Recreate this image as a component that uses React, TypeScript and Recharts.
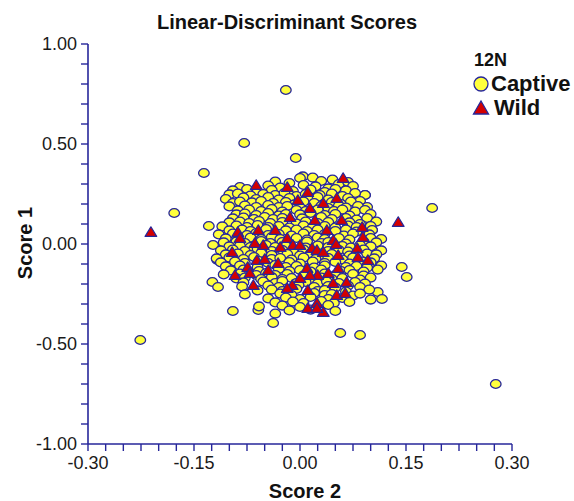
import { ScatterChart, Scatter, XAxis, YAxis, Legend } from "recharts";

// [Score 2, Score 1] pairs
const captiveCore: [number, number][] = [
  [0.004, 0.338], [0.018, 0.332], [0.046, 0.322], [0.0, 0.33],
  [-0.035, 0.312], [-0.015, 0.305], [0.03, 0.315], [0.055, 0.3], [0.068, 0.31],
  [-0.085, 0.285], [-0.045, 0.292], [-0.028, 0.282], [0.005, 0.295], [0.022, 0.288], [0.04, 0.278], [0.075, 0.29],
  [-0.095, 0.268], [-0.075, 0.275], [-0.06, 0.262], [-0.04, 0.27], [-0.01, 0.265], [0.015, 0.272], [0.035, 0.26], [0.05, 0.275], [0.065, 0.268], [0.092, 0.245],
  [-0.1, 0.248], [-0.088, 0.252], [-0.07, 0.242], [-0.052, 0.25], [-0.035, 0.245], [-0.022, 0.255], [-0.005, 0.24], [0.008, 0.25], [0.028, 0.245], [0.045, 0.252], [0.06, 0.24], [0.078, 0.255],
  [-0.105, 0.225], [-0.08, 0.232], [-0.062, 0.225], [-0.045, 0.235], [-0.03, 0.222], [-0.015, 0.23], [0.012, 0.228], [0.025, 0.235], [0.04, 0.222], [0.068, 0.23], [0.085, 0.215],
  [-0.095, 0.205], [-0.085, 0.212], [-0.068, 0.208], [-0.055, 0.215], [-0.038, 0.205], [-0.02, 0.21], [-0.008, 0.198], [0.005, 0.212], [0.02, 0.205], [0.045, 0.21], [0.058, 0.2], [0.072, 0.212], [0.095, 0.185],
  [-0.1, 0.188], [-0.078, 0.192], [-0.062, 0.185], [-0.045, 0.195], [-0.03, 0.185], [-0.018, 0.19], [0.0, 0.182], [0.03, 0.19], [0.04, 0.18], [0.055, 0.192], [0.065, 0.182], [0.082, 0.19],
  [-0.088, 0.168], [-0.072, 0.172], [-0.055, 0.165], [-0.04, 0.175], [-0.025, 0.162], [-0.005, 0.17], [0.008, 0.165], [0.025, 0.172], [0.048, 0.165], [0.06, 0.172], [0.078, 0.162], [0.092, 0.17],
  [-0.09, 0.148], [-0.078, 0.152], [-0.062, 0.145], [-0.045, 0.155], [-0.03, 0.142], [-0.02, 0.15], [0.0, 0.148], [0.015, 0.155], [0.035, 0.145], [0.05, 0.15], [0.07, 0.142], [0.1, 0.15],
  [-0.095, 0.128], [-0.08, 0.132], [-0.065, 0.125], [-0.05, 0.135], [-0.038, 0.125], [-0.025, 0.13], [0.003, 0.128], [0.03, 0.135], [0.045, 0.125], [0.065, 0.13], [0.08, 0.122], [0.095, 0.13],
  [-0.1, 0.108], [-0.085, 0.112], [-0.072, 0.105], [-0.058, 0.115], [-0.042, 0.105], [-0.025, 0.11], [-0.005, 0.102], [0.008, 0.112], [0.025, 0.105], [0.04, 0.11], [0.07, 0.108], [0.085, 0.1], [0.108, 0.112],
  [-0.11, 0.088], [-0.09, 0.092], [-0.075, 0.085], [-0.06, 0.095], [-0.045, 0.085], [-0.03, 0.09], [-0.015, 0.082], [0.005, 0.092], [0.018, 0.085], [0.035, 0.09], [0.05, 0.082], [0.068, 0.092], [0.08, 0.085], [0.1, 0.09],
  [-0.1, 0.068], [-0.082, 0.072], [-0.07, 0.065], [-0.048, 0.075], [-0.02, 0.068], [-0.005, 0.072], [0.01, 0.065], [0.025, 0.072], [0.05, 0.065], [0.065, 0.072], [0.08, 0.062], [0.102, 0.07],
  [-0.115, 0.048], [-0.095, 0.052], [-0.075, 0.045], [-0.062, 0.055], [-0.045, 0.045], [-0.03, 0.05], [-0.012, 0.042], [0.005, 0.052], [0.02, 0.045], [0.035, 0.05], [0.062, 0.042], [0.075, 0.052], [0.098, 0.048],
  [-0.105, 0.028], [-0.07, 0.032], [-0.055, 0.025], [-0.04, 0.035], [-0.028, 0.025], [-0.005, 0.03], [0.01, 0.022], [0.025, 0.032], [0.035, 0.025], [0.055, 0.03], [0.07, 0.022], [0.1, 0.03], [0.115, 0.025],
  [-0.108, 0.008], [-0.09, 0.012], [-0.078, 0.005], [-0.055, 0.015], [-0.042, 0.005], [-0.025, 0.01], [-0.015, 0.002], [0.01, 0.012], [0.03, 0.005], [0.04, 0.01], [0.065, 0.002], [0.09, 0.012], [0.108, 0.008],
  [-0.1, -0.012], [-0.085, -0.008], [-0.07, -0.015], [-0.048, -0.005], [-0.035, -0.015], [-0.02, -0.01], [0.008, -0.018], [0.025, -0.008], [0.04, -0.015], [0.06, -0.01], [0.072, -0.018], [0.085, -0.005], [0.1, -0.012],
  [-0.112, -0.032], [-0.095, -0.028], [-0.078, -0.035], [-0.06, -0.025], [-0.04, -0.035], [-0.025, -0.03], [-0.01, -0.038], [0.005, -0.028], [0.04, -0.035], [0.055, -0.03], [0.068, -0.038], [0.09, -0.028], [0.115, -0.032],
  [-0.105, -0.052], [-0.088, -0.048], [-0.07, -0.055], [-0.055, -0.045], [-0.04, -0.055], [-0.018, -0.05], [0.0, -0.058], [0.015, -0.048], [0.03, -0.055], [0.045, -0.05], [0.07, -0.058], [0.095, -0.048], [0.108, -0.052],
  [-0.118, -0.072], [-0.1, -0.068], [-0.08, -0.075], [-0.065, -0.065], [-0.04, -0.075], [-0.028, -0.07], [-0.012, -0.078], [0.005, -0.068], [0.022, -0.075], [0.04, -0.07], [0.06, -0.078], [0.075, -0.068], [0.105, -0.072],
  [-0.112, -0.092], [-0.092, -0.088], [-0.078, -0.095], [-0.058, -0.085], [-0.045, -0.095], [-0.015, -0.09], [0.0, -0.098], [0.018, -0.088], [0.035, -0.095], [0.05, -0.09], [0.07, -0.098], [0.088, -0.088], [0.1, -0.092],
  [-0.105, -0.112], [-0.085, -0.108], [-0.06, -0.115], [-0.035, -0.105], [-0.02, -0.115], [-0.005, -0.11], [0.02, -0.118], [0.035, -0.108], [0.065, -0.115], [0.08, -0.11], [0.095, -0.118], [0.115, -0.108],
  [-0.098, -0.132], [-0.08, -0.128], [-0.058, -0.135], [-0.03, -0.125], [-0.015, -0.135], [0.0, -0.13], [0.015, -0.138], [0.03, -0.128], [0.058, -0.135], [0.07, -0.13], [0.09, -0.138], [0.11, -0.128],
  [-0.108, -0.152], [-0.085, -0.148], [-0.062, -0.155], [-0.048, -0.145], [-0.035, -0.155], [-0.018, -0.15], [0.005, -0.158], [0.035, -0.148], [0.05, -0.155], [0.075, -0.15], [0.09, -0.158],
  [-0.09, -0.172], [-0.078, -0.168], [-0.055, -0.175], [-0.04, -0.165], [-0.025, -0.175], [-0.012, -0.17], [0.015, -0.178], [0.03, -0.168], [0.045, -0.175], [0.06, -0.17], [0.085, -0.178], [0.1, -0.168],
  [-0.08, -0.192], [-0.052, -0.188], [-0.035, -0.195], [-0.025, -0.185], [-0.005, -0.195], [0.008, -0.19], [0.025, -0.198], [0.038, -0.188], [0.055, -0.195], [0.078, -0.19], [0.092, -0.198],
  [-0.082, -0.212], [-0.045, -0.208], [-0.03, -0.215], [-0.002, -0.205], [0.02, -0.215], [0.04, -0.21], [0.05, -0.218], [0.068, -0.208], [0.085, -0.215],
  [-0.06, -0.232], [-0.04, -0.228], [-0.025, -0.235], [-0.005, -0.225], [0.025, -0.235], [0.035, -0.23], [0.065, -0.238], [0.098, -0.228],
  [-0.078, -0.252], [-0.028, -0.248], [-0.012, -0.255], [0.02, -0.245], [0.035, -0.255], [0.045, -0.25], [0.075, -0.258], [0.085, -0.248],
  [-0.045, -0.272], [-0.02, -0.268], [0.0, -0.275], [0.015, -0.265], [0.04, -0.275], [0.06, -0.27], [0.1, -0.278],
  [-0.035, -0.292], [-0.01, -0.288], [0.005, -0.295], [0.03, -0.285], [0.048, -0.295], [0.07, -0.29],
  [-0.058, -0.312], [-0.025, -0.308], [0.0, -0.315], [0.04, -0.305],
  [-0.015, -0.332], [0.015, -0.328], [0.05, -0.335],
  [-0.035, -0.348],
];

const captiveOutliers: [number, number][] = [
  [-0.02, 0.77], [-0.079, 0.505], [-0.006, 0.43], [-0.136, 0.355], [-0.178, 0.155],
  [-0.129, 0.09], [-0.123, -0.005], [-0.117, -0.08], [-0.11, -0.085], [-0.124, -0.19],
  [-0.116, -0.215], [-0.226, -0.48], [0.277, -0.7], [0.187, 0.18], [0.144, -0.115],
  [0.151, -0.165], [0.057, -0.445], [0.085, -0.455], [0.11, -0.24], [0.116, -0.275],
  [-0.038, -0.395], [-0.059, -0.33], [-0.095, -0.335], [0.092, 0.245], [0.102, 0.07],
];

const wildScores: [number, number][] = [
  [0.061, 0.33], [-0.062, 0.295], [-0.018, 0.285], [0.011, 0.26], [0.052, 0.23],
  [-0.003, 0.22], [0.033, 0.205], [0.014, 0.18], [-0.014, 0.135], [0.021, 0.12],
  [0.059, 0.12], [0.088, 0.085], [0.089, 0.035], [0.139, 0.11], [-0.088, 0.06],
  [-0.085, 0.03], [-0.059, 0.07], [-0.035, 0.07], [0.038, 0.07], [-0.052, -0.005],
  [-0.064, 0.005], [-0.028, -0.015], [-0.018, 0.03], [-0.01, -0.005], [0.0, -0.005],
  [0.017, -0.02], [0.024, -0.03], [0.033, -0.04], [0.047, 0.02], [0.051, 0.0],
  [0.081, -0.02], [0.096, -0.08], [0.054, -0.055], [0.082, -0.065], [-0.096, -0.04],
  [-0.061, -0.08], [-0.05, -0.075], [-0.074, -0.115], [-0.031, -0.095], [-0.045, -0.13],
  [0.01, -0.12], [0.025, -0.155], [0.04, -0.145], [0.054, -0.12], [0.066, -0.19],
  [0.047, -0.195], [-0.071, -0.145], [-0.092, -0.155], [-0.066, -0.205], [0.014, -0.155],
  [0.0, -0.17], [-0.011, -0.205], [-0.018, -0.22], [0.011, -0.23], [0.052, -0.255],
  [0.064, -0.245], [0.011, -0.32], [0.024, -0.295], [0.033, -0.34], [0.024, -0.32],
  [-0.211, 0.06],
];

const seriesNames = ["Captive", "Wild"];
const legendTitle = "12N";

const xTicks = [
  -0.3, -0.275, -0.25, -0.225, -0.2, -0.175, -0.15, -0.125, -0.1, -0.075, -0.05, -0.025,
  0, 0.025, 0.05, 0.075, 0.1, 0.125, 0.15, 0.175, 0.2, 0.225, 0.25, 0.275, 0.3,
];
const xLabelled = [-0.3, -0.15, 0, 0.15, 0.3];
const yTicks = [
  -1, -0.9, -0.8, -0.7, -0.6, -0.5, -0.4, -0.3, -0.2, -0.1,
  0, 0.1, 0.2, 0.3, 0.4, 0.5, 0.6, 0.7, 0.8, 0.9, 1,
];
const yLabelled = [-1, -0.5, 0, 0.5, 1];

const NAVY = "#26269a";
const YELLOW = "#ffff3c";
const RED = "#d40000";
const FONT = "'Liberation Sans', Arial, sans-serif";

const toPoints = (pairs: [number, number][]) => pairs.map(([x, y]) => ({ x, y }));
const captiveData = [...toPoints(captiveOutliers), ...toPoints(captiveCore)];
const wildData = toPoints(wildScores);

const labelIf = (shown: number[]) => (v: number) =>
  shown.some((s) => Math.abs(s - v) < 1e-9) ? v.toFixed(2) : "";

const CaptiveDot = (props: any) => {
  const { cx, cy } = props;
  return <ellipse cx={cx} cy={cy} rx={5.3} ry={4.4} fill={YELLOW} stroke={NAVY} strokeWidth={1.3} />;
};

const WildMark = (props: any) => {
  const { cx, cy } = props;
  return (
    <polygon
      points={`${cx},${cy - 5.2} ${cx + 5.8},${cy + 4.4} ${cx - 5.8},${cy + 4.4}`}
      fill={RED}
      stroke={NAVY}
      strokeWidth={1.2}
      strokeLinejoin="round"
    />
  );
};

const renderLegend = () => (
  <div style={{ fontFamily: FONT, fontWeight: 700, color: "#111" }}>
    <div style={{ fontSize: 18, lineHeight: "24px", paddingLeft: 2 }}>{legendTitle}</div>
    <div style={{ display: "flex", alignItems: "center", height: 24, fontSize: 22 }}>
      <svg width={18} height={18}>
        <circle cx={9} cy={9} r={7} fill={YELLOW} stroke={NAVY} strokeWidth={1.3} />
      </svg>
      <span style={{ marginLeft: 1 }}>{seriesNames[0]}</span>
    </div>
    <div style={{ display: "flex", alignItems: "center", height: 24, fontSize: 22 }}>
      <svg width={18} height={18}>
        <polygon points="9,2 16.5,15 1.5,15" fill={RED} stroke={NAVY} strokeWidth={1.3} />
      </svg>
      <span style={{ marginLeft: 4 }}>{seriesNames[1]}</span>
    </div>
  </div>
);

export default function App() {
  return (
    <div style={{ position: "absolute", left: 0, top: 0, width: 574, height: 501, background: "#fff" }}>
      <div
        style={{
          position: "absolute",
          left: 0,
          top: 12,
          width: 574,
          textAlign: "center",
          fontFamily: FONT,
          fontWeight: 700,
          fontSize: 20,
          lineHeight: "20px",
          color: "#111",
        }}
      >
        Linear-Discriminant Scores
      </div>
      <ScatterChart width={574} height={501} margin={{ top: 44, right: 62, bottom: 0, left: 0 }}>
        <XAxis
          type="number"
          dataKey="x"
          domain={[-0.3, 0.3]}
          ticks={xTicks}
          interval={0}
          allowDataOverflow
          height={57}
          tickSize={7}
          tickMargin={5}
          tickFormatter={labelIf(xLabelled)}
          axisLine={{ stroke: NAVY, strokeWidth: 1.6 }}
          tickLine={{ stroke: NAVY, strokeWidth: 1.4 }}
          tick={{ fill: "#1a1a1a", fontSize: 18, fontFamily: FONT }}
          label={(p: any) => (
            <text
              x={305}
              y={498}
              textAnchor="middle"
              fontFamily={FONT}
              fontWeight={700}
              fontSize={20}
              fill="#111"
            >
              Score 2
            </text>
          )}
        />
        <YAxis
          type="number"
          dataKey="y"
          domain={[-1, 1]}
          ticks={yTicks}
          interval={0}
          allowDataOverflow
          width={88}
          tickSize={7}
          tickMargin={4}
          tickFormatter={labelIf(yLabelled)}
          axisLine={{ stroke: NAVY, strokeWidth: 1.6 }}
          tickLine={{ stroke: NAVY, strokeWidth: 1.4 }}
          tick={{ fill: "#1a1a1a", fontSize: 18, fontFamily: FONT }}
          label={(p: any) => (
            <text
              x={25}
              y={243}
              transform="rotate(-90 25 243)"
              textAnchor="middle"
              dominantBaseline="central"
              fontFamily={FONT}
              fontWeight={700}
              fontSize={20}
              fill="#111"
            >
              Score 1
            </text>
          )}
        />
        <Legend
          layout="vertical"
          align="center"
          verticalAlign="middle"
          content={renderLegend}
          wrapperStyle={{ position: "absolute", left: 472, top: 48, width: 110, height: 80 }}
        />
        <Scatter name={seriesNames[0]} data={captiveData} shape={CaptiveDot} isAnimationActive={false} />
        <Scatter name={seriesNames[1]} data={wildData} shape={WildMark} isAnimationActive={false} />
      </ScatterChart>
    </div>
  );
}
